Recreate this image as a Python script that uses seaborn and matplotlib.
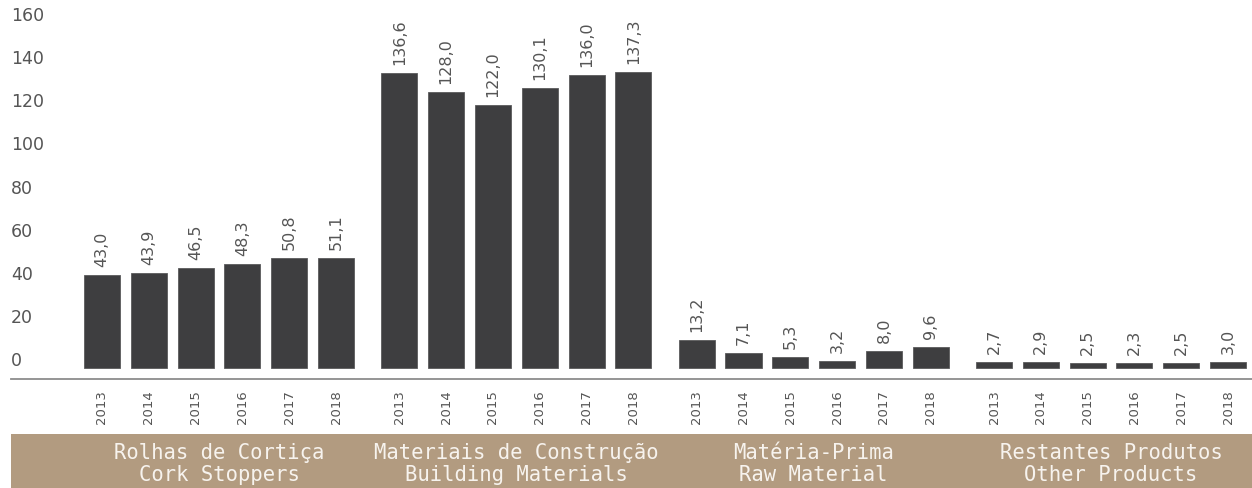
import matplotlib
matplotlib.use("Agg")
import matplotlib.pyplot as plt
import matplotlib.transforms as mtransforms
from matplotlib.patches import Rectangle
import numpy as np
import pandas as pd
import seaborn as sns

# Exports by product group (million euros), 2013-2018
years = ["2013", "2014", "2015", "2016", "2017", "2018"]
groups_pt = ["Rolhas de Cortiça", "Materiais de Construção", "Matéria-Prima", "Restantes Produtos"]
groups_en = ["Cork Stoppers", "Building Materials", "Raw Material", "Other Products"]
cork_stoppers = [43.0, 43.9, 46.5, 48.3, 50.8, 51.1]
building_materials = [136.6, 128.0, 122.0, 130.1, 136.0, 137.3]
raw_material = [13.2, 7.1, 5.3, 3.2, 8.0, 9.6]
other_products = [2.7, 2.9, 2.5, 2.3, 2.5, 3.0]
y_ticks = [0, 20, 40, 60, 80, 100, 120, 140, 160]

series = [cork_stoppers, building_materials, raw_material, other_products]

# layout: six bars per group, with an extra gap between groups
group_step = len(years) + 0.353
rows = []
for g, vals in enumerate(series):
    for i, (yr, v) in enumerate(zip(years, vals)):
        rows.append({"pos": g * group_step + i, "year": yr, "value": v, "group": g})
df = pd.DataFrame(rows)

sns.set_theme(style="white")
plt.rcParams["font.family"] = ["DejaVu Sans"]

BAR = "#3e3e40"
TXT = "#555555"
BAND = "#b29b80"

fig = plt.figure(figsize=(12.52, 4.89), dpi=100)
fig.patch.set_facecolor("white")
ax = fig.add_axes([11 / 1252, 109 / 489, 1 - 11 / 1252, 380 / 489])
ax.set_facecolor("white")

sns.barplot(data=df, x="pos", y="value", native_scale=True, width=0.77,
            color=BAR, saturation=1, edgecolor="#5a5a5c", linewidth=0.6, ax=ax)

ax.set_xlim(-1.944, 24.57)
ax.set_ylim(-5.10, 171.15)

for s in ["top", "right", "left"]:
    ax.spines[s].set_visible(False)
ax.spines["bottom"].set_color("#8c8c8c")
ax.spines["bottom"].set_linewidth(1.3)

ax.set_xlabel("")
ax.set_ylabel("")
ax.set_yticks([])
ax.set_xticks(df["pos"])
ax.set_xticklabels(df["year"], rotation=90, fontsize=9.5, color=TXT)
ax.tick_params(axis="x", length=0, pad=7.5)

# y scale labels drawn inside the plot area, sitting just above each level
ytrans = mtransforms.offset_copy(ax.get_yaxis_transform(), fig=fig, x=0, y=3, units="dots")
for t in y_ticks:
    ax.text(0.0, t, str(t), transform=ytrans, ha="left", va="baseline",
            fontsize=12.5, color=TXT)

# value labels above bars
for _, r in df.iterrows():
    lbl = f"{r['value']:.1f}".replace(".", ",")
    ax.annotate(lbl, (r["pos"], r["value"]), xytext=(0, 9), textcoords="offset pixels",
                rotation=90, ha="center", va="bottom", fontsize=11.5, color=TXT)

# category band below the axis
fig.patches.append(Rectangle((11 / 1252, 0), 1 - 11 / 1252, 54 / 489,
                             transform=fig.transFigure, facecolor=BAND,
                             edgecolor="none", zorder=-1))
btrans = mtransforms.blended_transform_factory(ax.transData, fig.transFigure)
for g, (pt, en) in enumerate(zip(groups_pt, groups_en)):
    cx = g * group_step + (len(years) - 1) / 2
    fig.text(cx, 36 / 489, pt, transform=btrans, ha="center", va="center",
             fontsize=14.8, color="#f7f3ee", family="DejaVu Sans Mono", zorder=5)
    fig.text(cx, 14 / 489, en, transform=btrans, ha="center", va="center",
             fontsize=14.8, color="#f7f3ee", family="DejaVu Sans Mono", zorder=5)

fig.savefig("out.png", dpi=100, facecolor="white")
